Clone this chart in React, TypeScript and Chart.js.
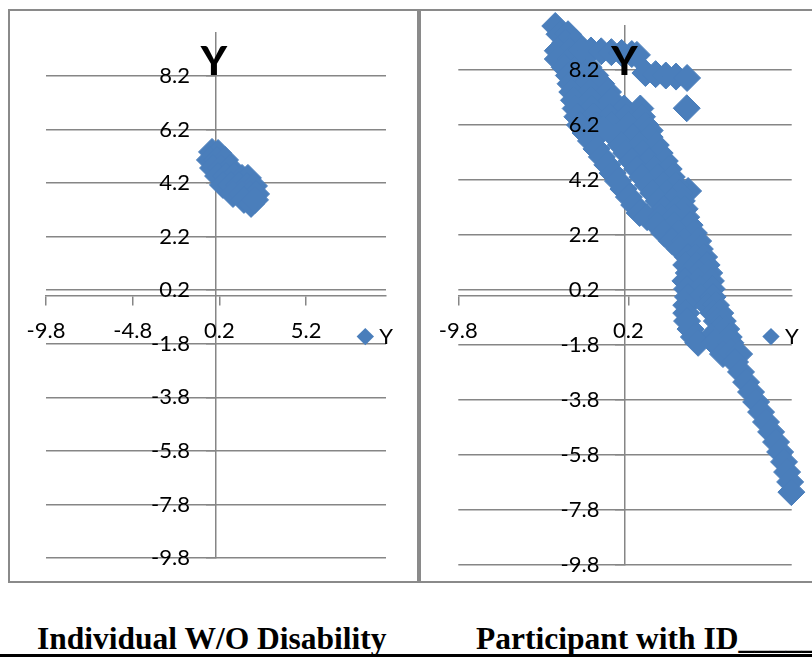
import React, { useEffect, useRef } from 'react';
import { Chart, registerables } from 'chart.js';

Chart.register(...registerables);

// ---------- axis / labels ----------
const AXIS_MIN = -9.8;
const AXIS_MAX = 9.8;
const Y_LABEL_AXIS_AT = -1.5; // x value where the y tick labels end (Excel puts them left of the axis)
const yTickValues = [-9.8, -7.8, -5.8, -3.8, -1.8, 0.2, 2.2, 4.2, 6.2, 8.2];
const leftXTickValues = [-9.8, -4.8, 0.2, 5.2];
const rightXTickValues = [-9.8, 0.2];
const seriesName = 'Y';
const leftCaption = 'Individual W/O Disability';
const rightCaption = 'Participant with ID';

// ---------- data: individual without disability ----------
const noDisabilityPoints: [number, number][] = [
  [-0.23, 5.36], [0.12, 5.32], [-0.35, 5.06], [0.06, 5.06], [0.52, 5.06],
  [-0.17, 4.76], [0.29, 4.76], [0.81, 4.76], [0.12, 4.46], [0.58, 4.46],
  [1.04, 4.46], [1.5, 4.39], [1.84, 4.39], [0.4, 4.13], [0.86, 4.13],
  [1.33, 4.13], [1.79, 4.09], [2.19, 4.09], [0.98, 3.79], [1.5, 3.79],
  [1.96, 3.79], [2.31, 3.79], [1.61, 3.57], [2.02, 3.42], [2.25, 3.57],
];

// ---------- data: participant with ID ----------
const idUpperBand: [number, number][] = [
  [-4.1, 9.8], [-3.85, 9.5], [-3.35, 9.5], [-3.5, 9.2], [-2.9, 9.2],
  [-3.95, 8.9], [-3.25, 8.9], [-2.6, 8.9], [-3.95, 8.6], [-3.2, 8.6], [-2.5, 8.6],
  [-3.55, 8.3], [-2.85, 8.3], [-2.15, 8.3], [-3.3, 8.0], [-2.5, 8.0], [-1.75, 8.0],
  [-3.2, 7.7], [-2.3, 7.7], [-1.4, 7.7], [-3.1, 7.4], [-2.05, 7.4], [-1.0, 7.4],
  [-3.0, 7.1], [-2.0, 7.1], [-0.8, 7.1],
  [-2.9, 6.8], [-1.95, 6.8], [-1.0, 6.8], [-0.05, 6.8], [0.9, 6.8],
  [-2.8, 6.5], [-1.85, 6.5], [-0.9, 6.5], [0.05, 6.5], [1.0, 6.5],
  [-2.65, 6.2], [-1.7, 6.2], [-0.75, 6.2], [0.25, 6.2], [1.2, 6.2],
  [-1.29, 6.05], [1.45, 6.0],
];
const idStreaks: [number, number][] = [
  [-2.6, 8.93], [-2.0, 8.91], [-1.4, 8.88], [-0.8, 8.85], [-0.2, 8.82], [0.4, 8.78], [0.7, 8.75],
  [1.2, 8.09], [1.8, 8.05], [2.4, 8.0], [3.0, 7.96], [3.65, 7.91],
];
const idOutliers: [number, number][] = [[3.63, 6.81], [3.71, 3.8]];
const idLeftBranch: [number, number][] = [
  [-2.32, 5.91], [-2.0, 5.62], [-1.68, 5.33], [-1.36, 5.04], [-1.04, 4.75], [-0.73, 4.45],
  [-0.41, 4.16], [-0.09, 3.87], [0.23, 3.58], [0.54, 3.29], [0.86, 3.0],
];
const idRightBranch: [number, number][] = [
  [-0.56, 5.76], [0.45, 5.76], [1.45, 5.76],
  [-0.25, 5.47], [0.81, 5.47], [1.81, 5.47],
  [0.07, 5.18], [1.04, 5.18], [2.04, 5.18],
  [0.39, 4.89], [1.39, 4.89], [2.34, 4.89],
  [0.71, 4.6], [1.69, 4.6], [2.57, 4.6],
  [1.02, 4.31], [1.92, 4.31], [2.75, 4.31],
  [1.34, 4.02], [2.22, 4.02], [2.98, 4.02],
  [1.66, 3.73], [2.45, 3.73], [3.16, 3.73],
  [1.98, 3.44], [2.75, 3.44], [3.34, 3.44],
  [2.29, 3.15], [3.04, 3.15], [3.51, 3.15],
];
const idLowerBand: [number, number][] = [
  [1.3, 2.85], [2.1, 2.85], [2.9, 2.85], [3.6, 2.85],
  [1.9, 2.56], [2.9, 2.56], [3.8, 2.56],
  [2.3, 2.27], [3.15, 2.27], [4.05, 2.27],
  [2.76, 1.98], [3.5, 1.98], [4.3, 1.98],
  [3.24, 1.69], [3.85, 1.69], [4.4, 1.69],
  [3.7, 1.4], [4.15, 1.4], [4.65, 1.4],
  [3.6, 1.11], [4.2, 1.11], [4.8, 1.11],
  [3.75, 0.82], [4.35, 0.82], [4.95, 0.82],
  [3.55, 0.53], [4.3, 0.53], [5.05, 0.53],
  [3.65, 0.24], [4.4, 0.24], [5.1, 0.24],
  [3.7, -0.05], [4.45, -0.05], [5.15, -0.05],
  [3.6, -0.35], [4.85, -0.35], [5.35, -0.35],
  [3.6, -0.64], [5.2, -0.64], [5.6, -0.64],
  [3.65, -0.93], [5.4, -0.93], [5.75, -0.93],
  [3.85, -1.22], [5.6, -1.22], [5.95, -1.22],
  [4.05, -1.51], [5.05, -1.51], [6.1, -1.51],
  [4.3, -1.72], [5.25, -1.72], [6.2, -1.72],
];
const idTail: [number, number][] = [
  [5.76, -2.13], [6.24, -2.05], [6.71, -2.13], [6.47, -2.42], [6.82, -2.78],
  [7.12, -3.15], [7.41, -3.51], [7.71, -3.87], [8.0, -4.24], [8.29, -4.6],
  [8.59, -4.96], [8.88, -5.33], [9.12, -5.69], [9.35, -6.05], [9.53, -6.42],
  [9.71, -6.78], [9.78, -7.15],
];

const withIdPoints = [
  ...idUpperBand, ...idStreaks, ...idOutliers, ...idLeftBranch,
  ...idRightBranch, ...idLowerBand, ...idTail,
];

// ---------- styles ----------
const BLUE = '#4A7EBB';
const GRID = '#868686';
const BOX = '#8a8a8a';
const FONT_FAMILY = 'Lato, "Open Sans", sans-serif';
const CANVAS_H = 574;

function overlayPlugin() {
  return {
    id: 'excelOverlay',
    afterDraw(chart: any) {
      const { ctx, chartArea } = chart;
      ctx.save();
      // chart title
      ctx.fillStyle = '#000';
      ctx.font = `900 40px ${FONT_FAMILY}`;
      ctx.textAlign = 'center';
      ctx.textBaseline = 'alphabetic';
      ctx.fillText(seriesName, chart.width / 2 + 0.5, 65.5);
      // legend
      const cx = chartArea.right - 20.7;
      const cy = 327.6;
      const r = 8.7;
      ctx.fillStyle = BLUE;
      ctx.beginPath();
      ctx.moveTo(cx - r, cy);
      ctx.lineTo(cx, cy - r);
      ctx.lineTo(cx + r, cy);
      ctx.lineTo(cx, cy + r);
      ctx.closePath();
      ctx.fill();
      ctx.fillStyle = '#000';
      ctx.font = `22px ${FONT_FAMILY}`;
      ctx.textAlign = 'left';
      ctx.fillText(seriesName, chartArea.right - 6.7, 335.3);
      ctx.restore();
    },
  };
}

function makeConfig(points: [number, number][], xTicks: number[], padding: any) {
  const tickFont = { family: FONT_FAMILY, size: 22 };
  const setYTicks = (scale: any) => {
    scale.ticks = yTickValues.map((v) => ({ value: v }));
  };
  return {
    type: 'scatter' as const,
    data: {
      datasets: [
        {
          label: seriesName,
          data: points.map(([x, y]) => ({ x, y })),
          pointStyle: 'rectRot',
          pointRadius: 13.5,
          pointBackgroundColor: BLUE,
          pointBorderColor: BLUE,
          pointBorderWidth: 1,
          showLine: false,
          clip: false,
        },
      ],
    },
    options: {
      animation: false,
      responsive: false,
      maintainAspectRatio: false,
      events: [],
      layout: { padding },
      plugins: {
        legend: { display: false },
        title: { display: false },
        tooltip: { enabled: false },
      },
      scales: {
        x: {
          type: 'linear',
          min: AXIS_MIN,
          max: AXIS_MAX,
          position: { y: 0 },
          afterBuildTicks: (scale: any) => {
            scale.ticks = xTicks.map((v) => ({ value: v }));
          },
          grid: {
            drawOnChartArea: false,
            drawTicks: true,
            tickLength: 9,
            color: GRID,
            lineWidth: 1.5,
          },
          border: { display: true, color: GRID, width: 1.5 },
          ticks: {
            z: 1,
            color: '#000',
            font: tickFont,
            padding: 13.5,
            autoSkip: false,
            maxRotation: 0,
            callback: (v: any) => Number(v).toFixed(1),
          },
        },
        y: {
          type: 'linear',
          min: AXIS_MIN,
          max: AXIS_MAX,
          position: { x: 0 },
          afterBuildTicks: setYTicks,
          grid: {
            drawOnChartArea: true,
            drawTicks: true,
            tickLength: 9,
            color: GRID,
            lineWidth: 1.5,
          },
          border: { display: true, color: GRID, width: 1.5 },
          ticks: { display: false },
        },
        yLabels: {
          type: 'linear',
          axis: 'y',
          min: AXIS_MIN,
          max: AXIS_MAX,
          position: { x: Y_LABEL_AXIS_AT },
          afterBuildTicks: setYTicks,
          grid: { display: false },
          border: { display: false },
          ticks: {
            z: 1,
            color: '#000',
            font: tickFont,
            autoSkip: false,
            callback: (v: any) => Number(v).toFixed(1),
          },
        },
      },
    },
    plugins: [overlayPlugin()],
  };
}

function ScatterPanel(props: {
  points: [number, number][];
  xTicks: number[];
  left: number;
  width: number;
  padding: any;
}) {
  const ref = useRef<HTMLCanvasElement>(null);
  useEffect(() => {
    const chart = new Chart(ref.current as HTMLCanvasElement, makeConfig(props.points, props.xTicks, props.padding) as any);
    return () => chart.destroy();
  }, []);
  return (
    <canvas
      ref={ref}
      width={props.width}
      height={CANVAS_H}
      style={{ position: 'absolute', left: props.left, top: 9, width: props.width, height: CANVAS_H }}
    />
  );
}

const captionStyle: React.CSSProperties = {
  position: 'absolute',
  top: 623,
  fontFamily: '"Liberation Serif", "Times New Roman", serif',
  fontWeight: 'bold',
  fontSize: 31.5,
  lineHeight: '31.5px',
  whiteSpace: 'pre',
  color: '#000',
};

export default function App() {
  return (
    <div
      style={{
        position: 'absolute',
        left: 0,
        top: 0,
        width: 812,
        height: 657,
        overflow: 'hidden',
        background: '#fff',
      }}
    >
      <div
        style={{
          position: 'absolute', left: 8, top: 9, width: 411, height: CANVAS_H,
          border: `2px solid ${BOX}`, boxSizing: 'border-box',
        }}
      />
      <div
        style={{
          position: 'absolute', left: 419, top: 9, width: 410, height: CANVAS_H,
          border: `2px solid ${BOX}`, boxSizing: 'border-box',
        }}
      />
      <ScatterPanel
        points={noDisabilityPoints}
        xTicks={leftXTickValues}
        left={8}
        width={411}
        padding={{ left: 38, right: 33, top: 24, bottom: 25 }}
      />
      <ScatterPanel
        points={withIdPoints}
        xTicks={rightXTickValues}
        left={419}
        width={410}
        padding={{ left: 39.3, right: 37.3, top: 17, bottom: 18 }}
      />
      <div style={{ ...captionStyle, left: 37 }}>{leftCaption}</div>
      <div style={{ ...captionStyle, left: 476 }}>{rightCaption + '_______'}</div>
      <div style={{ position: 'absolute', left: 0, top: 654, width: 812, height: 3, background: '#000' }} />
    </div>
  );
}
